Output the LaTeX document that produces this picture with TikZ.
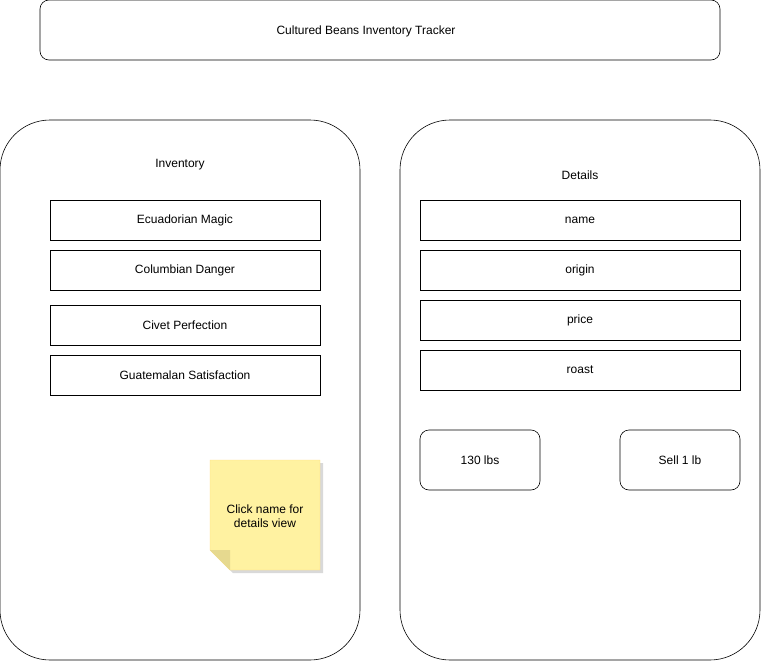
\documentclass[tikz,border=0pt]{standalone}
\usepackage{fontspec}
\setmainfont{Liberation Sans}
\usepackage{tikz}
\usetikzlibrary{positioning,shadows}
\definecolor{notefill}{HTML}{FFF2A1}
\definecolor{notefold}{HTML}{E6D98F}

\begin{document}
\begin{tikzpicture}[x=1pt, y=-1pt, semithick, font=\fontsize{12}{14}\selectfont,
	every node/.style={outer sep=0pt},
	panel/.style={draw, rounded corners=50pt, minimum width=360pt, minimum height=540pt, inner sep=0pt},
	field/.style={draw, minimum width=270pt, minimum height=40pt, inner sep=0pt},
	detail/.style={draw, minimum width=320pt, minimum height=40pt, inner sep=0pt},
	btn/.style={draw, rounded corners=9pt, minimum width=120pt, minimum height=60pt, inner sep=0pt},
	lbl/.style={inner sep=0pt}]
	\useasboundingbox (0,0) rectangle (761,661);

	\node[draw, rounded corners=9pt, minimum width=680pt, minimum height=60pt] (title) at (380,30) {};
	\node[lbl] (titlelbl) at (366,31) {Cultured Beans Inventory Tracker};

	\node[panel] (inv) at (180,390) {};
	\node[panel] (det) at (580,390) {};
	\node[lbl] (invlbl) at (180,165) {Inventory};
	\node[lbl] (detlbl) at (580,175) {Details};

	% inventory list
	\node[field] (ecu) at (185,220) {Ecuadorian Magic};
	\node[field] (col) [below=10pt of ecu] {Columbian Danger};
	\node[field] (civ) [below=15pt of col] {Civet Perfection};
	\node[field] (gua) [below=10pt of civ] {Guatemalan Satisfaction};

	% details
	\node[detail] (name) at (580,220) {name};
	\node[detail] (origin) [below=10pt of name] {origin};
	\node[detail] (price) [below=10pt of origin] {price};
	\node[detail] (roast) [below=10pt of price] {roast};

	\node[btn] (stock) at (480,460) {130 lbs};
	\node[btn] (sell) at (680,460) {Sell 1 lb};

	% sticky note
	\fill[gray!50, opacity=0.6] (213,463) -- (323,463) -- (323,573) -- (233,573) -- (213,553) -- cycle;
	\draw[notefill!80!orange, fill=notefill, thin] (210,460) -- (320,460) -- (320,570) -- (230,570) -- (210,550) -- cycle;
	\fill[notefold] (210,550) -- (230,550) -- (230,570) -- cycle;
	\node[align=center, lbl] (note) at (265,516) {Click name for\\details view};
\end{tikzpicture}
\end{document}
